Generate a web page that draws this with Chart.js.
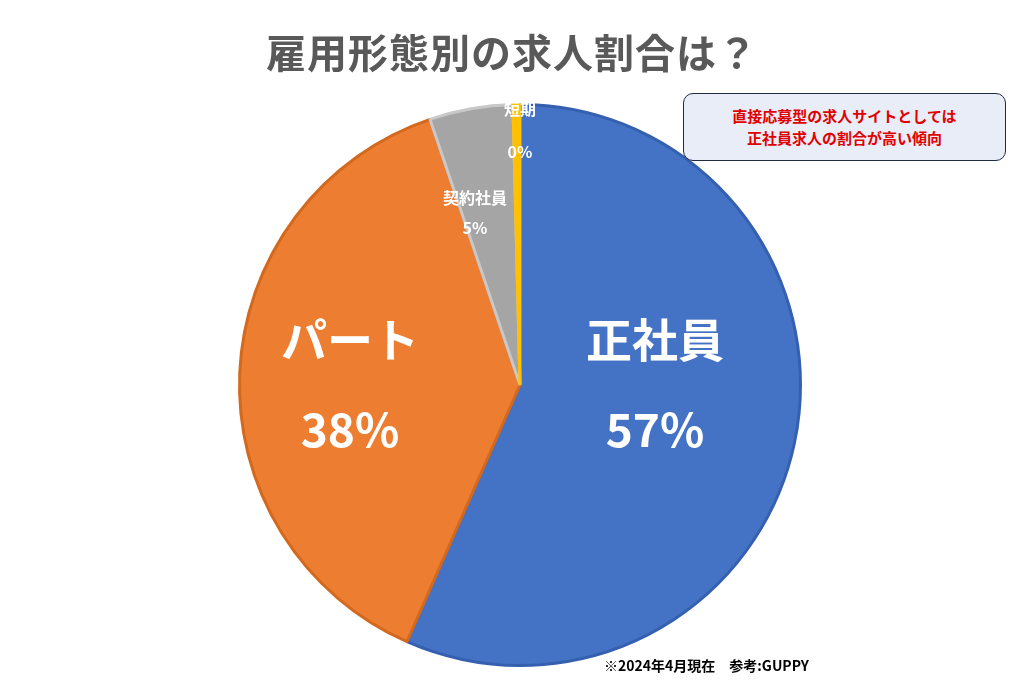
<!DOCTYPE html>
<html><head><meta charset="utf-8">
<script src="https://cdn.jsdelivr.net/npm/chart.js@4"></script>
<style>
body{margin:0;width:1024px;height:693px;background:#fff;overflow:hidden;font-family:"Noto Sans CJK JP",sans-serif;position:relative}
#wrap{position:absolute;left:0;top:0;width:1024px;height:693px}
.title{position:absolute;left:0;width:1024px;top:22px;text-align:center;font-size:40px;font-weight:bold;color:#595959;letter-spacing:1px}
.note{position:absolute;left:683px;top:93px;width:323px;height:68px;border:1.5px solid #1f2a44;border-radius:10px;background:#e8edf7;color:#e00000;font-size:15px;font-weight:bold;text-align:center;line-height:22px;box-sizing:border-box;padding-top:11px}
.foot{position:absolute;left:604px;top:655px;font-size:14px;font-weight:bold;color:#000}
</style></head><body>
<div id="wrap"><canvas id="c" width="1024" height="693"></canvas></div>
<div class="title">雇用形態別の求人割合は？</div>
<div class="note">直接応募型の求人サイトとしては<br>正社員求人の割合が高い傾向</div>
<div class="foot">※2024年4月現在　参考:GUPPY</div>
<script>
const categories = ['正社員', 'パート', '契約社員', '短期'];
const shares = [56.6, 38.2, 4.8, 0.4];
const shareLabels = ['57%', '38%', '5%', '0%'];

const fills = ['#4472c4', '#ed7d31', '#a5a5a5', '#ffc000'];
const borders = ['#3560b0', '#d2691e', '#c8c8c8', '#ffc000'];

// label placement: [dx, dy, nameSize, pctSize, lineGap] relative to pie centre
const labelPos = [
  [135, 0, 46, 46, 90],
  [-170, 0, 46, 46, 90],
  [-45, -172, 16, 16, 30],
  [0, -255, 16, 16, 43]
];

const labelPlugin = {
  id: 'sliceLabels',
  afterDatasetsDraw(chart) {
    const arc = chart.getDatasetMeta(0).data[0];
    const ctx = chart.ctx;
    ctx.save();
    ctx.fillStyle = '#fff';
    ctx.textAlign = 'center';
    ctx.textBaseline = 'middle';
    categories.forEach((name, i) => {
      const [dx, dy, s1, s2, gap] = labelPos[i];
      const x = arc.x + dx, y = arc.y + dy;
      ctx.font = `bold ${s1}px "Noto Sans CJK JP"`;
      ctx.fillText(name, x, y - gap / 2);
      ctx.font = `bold ${s2}px "Noto Sans CJK JP"`;
      ctx.fillText(shareLabels[i], x, y + gap / 2);
    });
    ctx.restore();
  }
};

new Chart(document.getElementById('c'), {
  type: 'pie',
  data: {
    labels: categories,
    datasets: [{ data: shares, backgroundColor: fills, borderColor: borders, borderWidth: 3 }]
  },
  options: {
    responsive: false,
    animation: false,
    layout: { padding: { left: 238, right: 222, top: 103, bottom: 26 } },
    plugins: { legend: { display: false }, tooltip: { enabled: false } }
  },
  plugins: [labelPlugin]
});
</script>
</body></html>
